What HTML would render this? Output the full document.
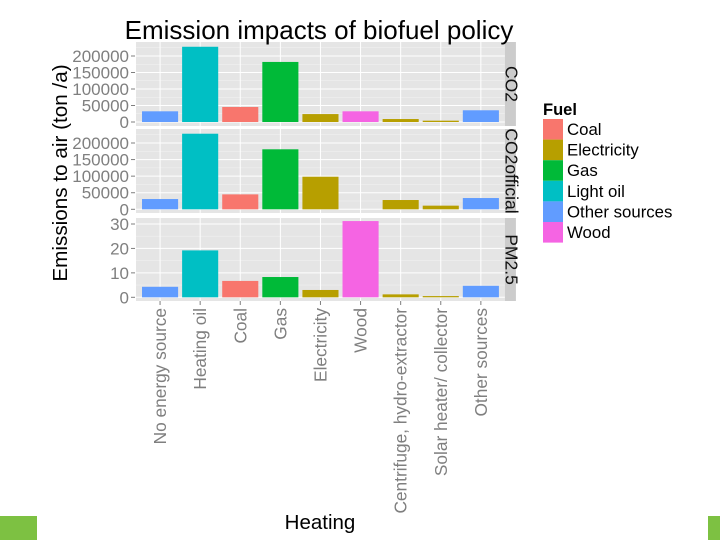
<!DOCTYPE html>
<html><head><meta charset="utf-8"><style>
body{margin:0;background:#fff;width:720px;height:540px;overflow:hidden;font-family:"Liberation Sans",sans-serif}
</style></head><body>
<svg id="chart" width="720" height="540" xmlns="http://www.w3.org/2000/svg" font-family="Liberation Sans, sans-serif"></svg>
<script>
const categories=["No energy source","Heating oil","Coal","Gas","Electricity","Wood","Centrifuge, hydro-extractor","Solar heater/ collector","Other sources"];
const fuels=["Other sources","Light oil","Coal","Gas","Electricity","Wood","Electricity","Electricity","Other sources"];
const co2=[32400,228000,45500,182000,24000,32400,9000,4000,35500];
const co2official=[31000,228000,45000,181000,98300,0,28000,11000,34000];
const pm25=[4.3,19.2,6.7,8.3,3.0,31.2,1.2,0.5,4.7];
const ticksBig=[0,50000,100000,150000,200000];
const ticksPm=[0,10,20,30];
const legendFuels=["Coal","Electricity","Gas","Light oil","Other sources","Wood"];
const fuelColors={"Coal":"#f8766d","Electricity":"#b79f00","Gas":"#00ba38","Light oil":"#00bfc4","Other sources":"#619cff","Wood":"#f564e3"};

const svg=document.getElementById('chart');
const NS="http://www.w3.org/2000/svg";
function mk(tag,attrs,txt){const e=document.createElementNS(NS,tag);for(const k in attrs)e.setAttribute(k,attrs[k]);if(txt!==undefined)e.textContent=txt;svg.appendChild(e);return e;}
const bw=40.1,X0=136,X1=X0+bw*(categories.length-1+1.2);
function xc(i){return X0+bw*(0.6+i);}
const panels=[
 {name:"CO2",vals:co2,ticks:ticksBig,top:42,bottom:126,y0:122,ymax:200000,ypx:56,minor:25000},
 {name:"CO2official",vals:co2official,ticks:ticksBig,top:129,bottom:213,y0:209.3,ymax:200000,ypx:143,minor:25000},
 {name:"PM2.5",vals:pm25,ticks:ticksPm,top:218,bottom:301,y0:297.3,ymax:30,ypx:224,minor:5}
];
panels.forEach((p,pi)=>{
  const y=v=>p.y0-(v/p.ymax)*(p.y0-p.ypx);
  let e=mk('rect',{x:X0,y:p.top,width:X1-X0,height:p.bottom-p.top,fill:'#e5e5e5'});
  
  
  const maxT=p.ticks[p.ticks.length-1];
  for(let v=p.minor;v<=maxT+p.minor*1.5;v+=p.minor*2){const yy=y(v);if(yy>p.top)mk('line',{x1:X0,x2:X1,y1:yy,y2:yy,stroke:'#f2f2f2','stroke-width':0.5});}
  p.ticks.forEach(t=>{const yy=y(t);mk('line',{x1:X0,x2:X1,y1:yy,y2:yy,stroke:'#fff','stroke-width':1});
    mk('line',{x1:131,x2:135,y1:yy,y2:yy,stroke:'#7f7f7f','stroke-width':1});
    e=mk('text',{x:129,y:yy+6,'text-anchor':'end','font-size':17,fill:'#7f7f7f'},String(t));
    });
  categories.forEach((c,i)=>mk('line',{x1:xc(i),x2:xc(i),y1:p.top,y2:p.bottom,stroke:'#fff','stroke-width':1}));
  p.vals.forEach((v,i)=>{const yt=y(v);
    e=mk('rect',{x:xc(i)-bw*0.45,y:Math.min(yt,p.y0),width:bw*0.9,height:Math.abs(p.y0-yt),fill:fuelColors[fuels[i]]});
    
    });
  e=mk('rect',{x:X1,y:p.top,width:11,height:p.bottom-p.top,fill:'#cccccc'});
  
  const cy=(p.top+p.bottom)/2;
  e=mk('text',{x:0,y:0,'font-size':17.5,fill:'#111','text-anchor':'middle',transform:`translate(${X1+0.5},${cy}) rotate(90)`},p.name);
  
});
categories.forEach((c,i)=>{
  mk('line',{x1:xc(i),x2:xc(i),y1:301,y2:305,stroke:'#7f7f7f'});
  const e=mk('text',{x:0,y:0,'font-size':17.3,fill:'#7f7f7f','text-anchor':'end',transform:`translate(${xc(i)+6},308) rotate(-90)`},c);
  
});
let e=mk('text',{x:319,y:39,'font-size':26,'text-anchor':'middle',fill:'#000'},"Emission impacts of biofuel policy");

e=mk('text',{x:0,y:0,'font-size':20.7,'text-anchor':'middle',fill:'#000',transform:'translate(67,173) rotate(-90)'},"Emissions to air (ton /a)");

e=mk('text',{x:320,y:529,'font-size':20.5,'text-anchor':'middle',fill:'#000'},"Heating");

e=mk('text',{x:543,y:115,'font-size':16.5,'font-weight':'bold',fill:'#000'},"Fuel");

legendFuels.forEach((f,i)=>{const yy=119+i*20.6;
  e=mk('rect',{x:543,y:yy,width:20,height:20.6,fill:fuelColors[f]});
  
  e=mk('text',{x:567,y:yy+16,'font-size':16.8,fill:'#000'},f);
  
});
e=mk('rect',{x:0,y:516,width:37,height:24,fill:'#7dc142'});

e=mk('rect',{x:708,y:516,width:12,height:24,fill:'#7dc142'});

</script>
</body></html>
